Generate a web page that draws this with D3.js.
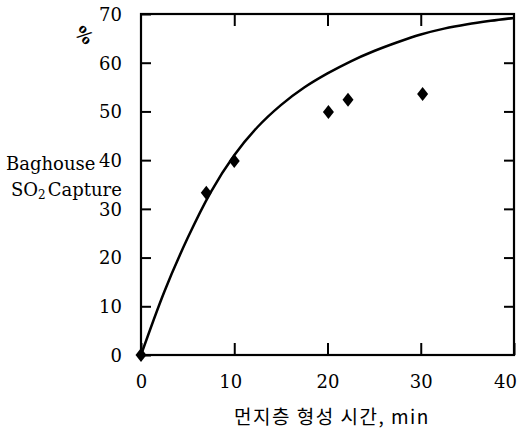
<!DOCTYPE html>
<html>
<head>
<meta charset="utf-8">
<script src="https://cdn.jsdelivr.net/npm/d3@7"></script>
<style>
  body { margin: 0; background: #fff; }
  svg text { fill: #000; }
</style>
</head>
<body>
<svg id="chart"></svg>
<script>
// data
const xTicks = [0, 10, 20, 30, 40]
const yTicks = [0, 10, 20, 30, 40, 50, 60, 70]

// measured points (min, % captured)
const pointTimes = [0, 7, 10, 20.1, 22.2, 30.2]
const pointCapture = [0, 33.3, 39.8, 49.9, 52.4, 53.6]

// fitted curve
const curveTimes = [0, 2.5, 5, 7.5, 10, 12.5, 15, 17.5, 20, 22.5, 25, 27.5, 30, 32.5, 35, 37.5, 40]
const curveCapture = [0, 13, 24, 33.5, 41, 46.8, 51.3, 54.9, 57.8, 60.3, 62.4, 64.2, 65.8, 67, 67.9, 68.6, 69.2]

const xLabel = '먼지층 형성 시간, min'
const yLabel = ['Baghouse', 'SO', '2', 'Capture']

// layout
const fullWidth = 522
const fullHeight = 434
const margin = { top: 14, right: 8, bottom: 79, left: 141 }
const width = fullWidth - margin.left - margin.right
const height = fullHeight - margin.top - margin.bottom
const serif = '"DejaVu Serif", "Liberation Serif", serif'

const svg = d3.select('#chart')
    .attr('width', fullWidth)
    .attr('height', fullHeight)

const g = svg.append('g')
    .attr('transform', `translate(${margin.left}, ${margin.top})`)

const xScale = d3.scaleLinear().domain([0, 40]).range([0, width])
const yScale = d3.scaleLinear().domain([0, 70]).range([height, 0])

// axes: labelled bottom/left, inward ticks on all four sides
const bottomAxis = d3.axisBottom(xScale).tickValues(xTicks).tickSize(-12).tickFormat(d3.format('d'))
const topAxis = d3.axisTop(xScale).tickValues(xTicks.slice(1, -1)).tickSize(-12).tickFormat('')
const leftAxis = d3.axisLeft(yScale).tickValues(yTicks).tickSize(-10).tickFormat(d3.format('d'))
const rightAxis = d3.axisRight(yScale).tickValues(yTicks.slice(1, -1)).tickSize(-10).tickFormat('')

function styleAxis(sel) {
    sel.select('.domain').remove()
    sel.selectAll('line').attr('stroke', '#000').attr('stroke-width', 2)
    sel.selectAll('text')
        .style('font-family', serif)
        .style('font-size', '18px')
}

g.append('g')
    .attr('transform', `translate(0, ${height})`)
    .call(bottomAxis)
    .call(styleAxis)
    .call(s => s.selectAll('text')
        .attr('y', 20)
        .attr('dy', '0.71em')
        // last label sits a little left of its tick in the original
        .attr('dx', d => d === 40 ? -9 : (d === 10 ? -4 : 0)))

g.append('g').call(topAxis).call(styleAxis)

g.append('g')
    .call(leftAxis)
    .call(styleAxis)
    .call(s => s.selectAll('text').attr('x', -19).attr('dy', '0.35em'))

g.append('g')
    .attr('transform', `translate(${width}, 0)`)
    .call(rightAxis)
    .call(styleAxis)

// frame
g.append('rect')
    .attr('width', width)
    .attr('height', height)
    .attr('fill', 'none')
    .attr('stroke', '#000')
    .attr('stroke-width', 2.2)

// curve
const line = d3.line()
    .x(d => xScale(d[0]))
    .y(d => yScale(d[1]))
    .curve(d3.curveMonotoneX)

g.append('path')
    .datum(curveTimes.map((t, i) => [t, curveCapture[i]]))
    .attr('d', line)
    .attr('fill', 'none')
    .attr('stroke', '#000')
    .attr('stroke-width', 2.5)

// diamonds
g.selectAll('.pt')
    .data(pointTimes.map((t, i) => [t, pointCapture[i]]))
    .join('path')
    .attr('class', 'pt')
    .attr('transform', d => `translate(${xScale(d[0])}, ${yScale(d[1])})`)
    .attr('d', 'M0,-7L5.5,0L0,7L-5.5,0Z')
    .attr('fill', '#000')

// y label
const yl = svg.append('text')
    .style('font-family', serif)
    .style('font-size', '18px')
yl.append('tspan').attr('x', 6).attr('y', 170).text(yLabel[0])
const yl2 = svg.append('text')
    .attr('x', 11)
    .attr('y', 196)
    .style('font-family', serif)
    .style('font-size', '18px')
yl2.append('tspan').text(yLabel[1])
yl2.append('tspan').attr('dy', 3).style('font-size', '12px').text(yLabel[2])
yl2.append('tspan').attr('dy', -3).attr('dx', 2).text(yLabel[3])

svg.append('text')
    .attr('transform', 'translate(80, 40) rotate(40)')
    .attr('text-anchor', 'middle')
    .style('font-family', serif)
    .style('font-size', '18px')
    .style('font-weight', 'bold')
    .text('%')

// x label
svg.append('text')
    .attr('x', 332)
    .attr('y', 424)
    .attr('text-anchor', 'middle')
    .style('font-family', '"Noto Sans CJK KR", sans-serif')
    .style('font-size', '19px')
    .style('letter-spacing', '1.5px')
    .text(xLabel)
</script>
</body>
</html>
